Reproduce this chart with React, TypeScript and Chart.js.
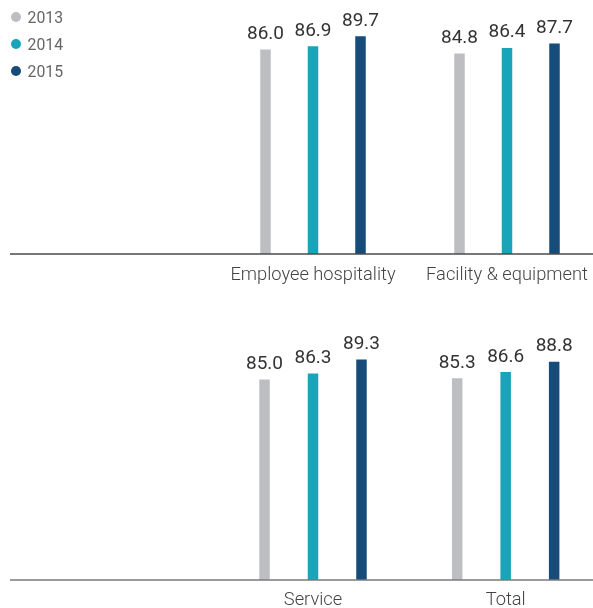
import React, { useEffect, useRef } from 'react';
import { Chart, registerables } from 'chart.js';

Chart.register(...registerables);

const years = ['2013', '2014', '2015'];
const yearColors = ['#bdbec2', '#19a4ba', '#164b7a'];

const topCategories = ['Employee hospitality', 'Facility & equipment'];
const topValues2013 = [86.0, 84.8];
const topValues2014 = [86.9, 86.4];
const topValues2015 = [89.7, 87.7];

const bottomCategories = ['Service', 'Total'];
const bottomValues2013 = [85.0, 85.3];
const bottomValues2014 = [86.3, 86.6];
const bottomValues2015 = [89.3, 88.8];

const FONT = 'Roboto, "Noto Sans", sans-serif';

type PanelProps = {
  categories: string[];
  series: number[][];
  width: number;
  height: number;
  padLeft: number;
  axisHeight: number;
  tickPad: number;
  yMin: number;
  yMax: number;
  catPct: number;
  barPct: number;
  lineColor: string;
};

function Panel(props: PanelProps) {
  const ref = useRef<HTMLCanvasElement | null>(null);
  useEffect(() => {
    if (!ref.current) return;
    const labels = ['', ...props.categories];
    const valueLabels = {
      id: 'valueLabels',
      afterDatasetsDraw(chart: any) {
        const ctx = chart.ctx;
        ctx.save();
        ctx.font = `19px ${FONT}`;
        ctx.fillStyle = '#333333';
        ctx.textAlign = 'center';
        ctx.textBaseline = 'alphabetic';
        chart.data.datasets.forEach((ds: any, i: number) => {
          const meta = chart.getDatasetMeta(i);
          meta.data.forEach((bar: any, j: number) => {
            const v = ds.data[j];
            if (v == null) return;
            ctx.fillText(Number(v).toFixed(1), bar.x, bar.y - 10.5);
          });
        });
        ctx.restore();
      },
    };
    const baseline = {
      id: 'baseline',
      afterDraw(chart: any) {
        const ctx = chart.ctx;
        const y = chart.chartArea.bottom;
        ctx.save();
        ctx.strokeStyle = props.lineColor;
        ctx.lineWidth = 1.5;
        ctx.beginPath();
        ctx.moveTo(10, y);
        ctx.lineTo(593, y);
        ctx.stroke();
        ctx.restore();
      },
    };
    const chart = new Chart(ref.current, {
      type: 'bar',
      data: {
        labels,
        datasets: years.map((yr, i) => ({
          label: yr,
          data: [null, ...props.series[i]],
          backgroundColor: yearColors[i],
          borderWidth: 0,
          categoryPercentage: props.catPct,
          barPercentage: props.barPct,
        })),
      },
      options: {
        responsive: false,
        animation: false,
        layout: { padding: { left: props.padLeft, right: 0, top: 0, bottom: 0 } },
        plugins: {
          legend: { display: false },
          tooltip: { enabled: false },
        },
        scales: {
          x: {
            grid: { display: false, drawTicks: false },
            border: { display: false },
            ticks: {
              autoSkip: false,
              maxRotation: 0,
              padding: props.tickPad,
              color: '#444444',
              font: { family: FONT, size: 18.3, weight: 300 as any },
            },
            afterFit(scale: any) {
              scale.height = props.axisHeight;
            },
          },
          y: {
            display: false,
            min: props.yMin,
            max: props.yMax,
          },
        },
      } as any,
      plugins: [valueLabels, baseline],
    });
    return () => chart.destroy();
  }, []);
  return (
    <canvas
      ref={ref}
      width={props.width}
      height={props.height}
      style={{ display: 'block', width: props.width, height: props.height }}
    />
  );
}

function Legend() {
  return (
    <div style={{ position: 'absolute', left: 0, top: 0 }}>
      {years.map((yr, i) => {
        const cy = 16.5 + i * 27.2;
        return (
          <React.Fragment key={yr}>
            <div
              style={{
                position: 'absolute',
                left: 10.7,
                top: cy - 5,
                width: 10,
                height: 10,
                borderRadius: '50%',
                background: yearColors[i],
              }}
            />
            <div
              style={{
                position: 'absolute',
                left: 27.5,
                top: cy + 1.5 - 10,
                height: 20,
                lineHeight: '20px',
                fontFamily: FONT,
                fontSize: 15.8,
                color: '#666666',
                whiteSpace: 'nowrap',
              }}
            >
              {yr}
            </div>
          </React.Fragment>
        );
      })}
    </div>
  );
}

export default function App() {
  return (
    <div
      style={{
        position: 'absolute',
        left: 0,
        top: 0,
        width: 593,
        height: 608,
        overflow: 'hidden',
        background: '#ffffff',
      }}
    >
      <div style={{ position: 'absolute', left: 0, top: 0 }}>
        <Panel
          categories={topCategories}
          series={[topValues2013, topValues2014, topValues2015]}
          width={604}
          height={305}
          padLeft={22}
          axisHeight={51}
          tickPad={10}
          yMin={28}
          yMax={100}
          catPct={0.7345}
          barPct={0.221}
          lineColor="#4a4a4a"
        />
      </div>
      <div style={{ position: 'absolute', left: 0, top: 305 }}>
        <Panel
          categories={bottomCategories}
          series={[bottomValues2013, bottomValues2014, bottomValues2015]}
          width={602}
          height={303}
          padLeft={24}
          axisHeight={28}
          tickPad={9.5}
          yMin={42}
          yMax={101}
          catPct={0.755}
          barPct={0.2165}
          lineColor="#7a7a7a"
        />
      </div>
      <Legend />
    </div>
  );
}
